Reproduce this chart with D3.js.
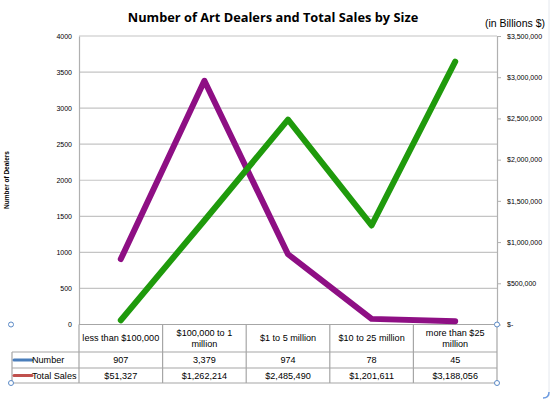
<!DOCTYPE html>
<html>
<head>
<meta charset="utf-8">
<script src="https://cdn.jsdelivr.net/npm/d3@7"></script>
<style>
  body { margin: 0; background: #fff; }
  text { font-family: "Liberation Sans", Arial, sans-serif; fill: #000; }
</style>
</head>
<body>
<div id="chart"></div>
<script>
// chart data
var categories = ["less than $100,000", "$100,000 to 1 million", "$1 to 5 million", "$10 to 25 million", "more than $25 million"];
var categoryLines = [["less than $100,000"], ["$100,000 to 1", "million"], ["$1 to 5 million"], ["$10 to 25 million"], ["more than $25", "million"]];
var numberValues = [907, 3379, 974, 78, 45];
var salesValues = [51327, 1262214, 2485490, 1201611, 3188056];
var leftTicks = [0, 500, 1000, 1500, 2000, 2500, 3000, 3500, 4000];
var rightTicks = [0, 500000, 1000000, 1500000, 2000000, 2500000, 3000000, 3500000];
var seriesNames = ["Number", "Total Sales"];

var W = 550, H = 399;
var plot = {left: 79, right: 497, top: 36, bottom: 324.5};
var rowBottoms = [352, 368, 383];
var legendLeft = 12;

var svg = d3.select("#chart").append("svg")
    .attr("width", W)
    .attr("height", H);

svg.append("rect").attr("width", W).attr("height", H).attr("fill", "#fff");

var x = d3.scaleBand()
    .domain(categories)
    .range([plot.left, plot.right])
    .padding(0);

var yLeft = d3.scaleLinear()
    .domain([0, 4000])
    .range([plot.bottom, plot.top]);

var yRight = d3.scaleLinear()
    .domain([0, 3500000])
    .range([plot.bottom, plot.top]);

var cx = function(d, i){ return x(categories[i]) + x.bandwidth() / 2; };

// gridlines
svg.selectAll(".grid")
    .data(leftTicks.slice(1))
  .enter().append("line")
    .attr("class", "grid")
    .attr("x1", plot.left)
    .attr("x2", plot.right)
    .attr("y1", function(d){ return yLeft(d); })
    .attr("y2", function(d){ return yLeft(d); })
    .attr("stroke", "#c4c4c4")
    .attr("stroke-width", 1.2);

// left axis
var leftAxis = svg.append("g")
    .attr("transform", "translate(" + plot.left + ",0)")
    .call(d3.axisLeft(yLeft).tickValues(leftTicks).tickSize(0).tickPadding(7).tickFormat(d3.format("d")));
leftAxis.select(".domain").attr("stroke", "#b0b0b0").attr("stroke-width", 1.2);
leftAxis.selectAll("text").style("font-size", "7px").attr("fill", "#333");

// right axis
var rightAxis = svg.append("g")
    .attr("transform", "translate(" + plot.right + ",0)")
    .call(d3.axisRight(yRight).tickValues(rightTicks).tickSize(4).tickSizeOuter(0).tickPadding(6)
      .tickFormat(function(d){ return d === 0 ? "$-" : "$" + d3.format(",")(d); }));
rightAxis.select(".domain").attr("stroke", "#b0b0b0").attr("stroke-width", 1.2);
rightAxis.selectAll(".tick line").attr("stroke", "#b0b0b0");
rightAxis.selectAll("text").style("font-size", "7px").attr("fill", "#333");

// left axis title
svg.append("text")
    .attr("transform", "translate(9,180) rotate(-90)")
    .attr("text-anchor", "middle")
    .style("font-size", "6.5px")
    .style("font-weight", "bold")
    .text("Number of Dealers");

// title
svg.append("text")
    .attr("x", 273)
    .attr("y", 22)
    .attr("text-anchor", "middle")
    .style("font-size", "12.8px")
    .style("font-weight", "bold")
    .style("font-family", "'Open Sans', sans-serif")
    .text("Number of Art Dealers and Total Sales by Size");

svg.append("text")
    .attr("x", 545)
    .attr("y", 27)
    .attr("text-anchor", "end")
    .style("font-size", "10.5px")
    .text("(in Billions $)");

// data table
var table = svg.append("g").attr("stroke", "#a6a6a6").attr("stroke-width", 1.2);
table.append("line")
    .attr("x1", plot.left).attr("x2", plot.right)
    .attr("y1", plot.bottom).attr("y2", plot.bottom);
rowBottoms.forEach(function(yy){
    table.append("line")
        .attr("x1", legendLeft).attr("x2", plot.right)
        .attr("y1", yy).attr("y2", yy);
});
var bounds = categories.map(function(c){ return x(c); }).concat([plot.right]);
table.selectAll(".vline")
    .data(bounds)
  .enter().append("line")
    .attr("x1", function(d){ return d; })
    .attr("x2", function(d){ return d; })
    .attr("y1", plot.bottom)
    .attr("y2", rowBottoms[2]);
table.append("line")
    .attr("x1", legendLeft).attr("x2", legendLeft)
    .attr("y1", rowBottoms[0]).attr("y2", rowBottoms[2]);

// category labels
var headerMid = (plot.bottom + rowBottoms[0]) / 2;
categoryLines.forEach(function(lines, i){
    var t = svg.append("text")
        .attr("text-anchor", "middle")
        .style("font-size", "9.1px")
        .attr("fill", "#222");
    lines.forEach(function(ln, j){
        t.append("tspan")
            .attr("x", x(categories[i]) + x.bandwidth() / 2)
            .attr("y", headerMid + 3.2 + (j - (lines.length - 1) / 2) * 11)
            .text(ln);
    });
});

// table values
var rowData = [
    numberValues.map(function(d){ return d3.format(",")(d); }),
    salesValues.map(function(d){ return "$" + d3.format(",")(d); })
];
rowData.forEach(function(row, r){
    var mid = ((r === 0 ? rowBottoms[0] : rowBottoms[1]) + rowBottoms[r + 1]) / 2;
    svg.selectAll(".val" + r)
        .data(row)
      .enter().append("text")
        .attr("x", cx)
        .attr("y", mid + 3.3)
        .attr("text-anchor", "middle")
        .style("font-size", "9.1px")
        .attr("fill", "#222")
        .text(function(d){ return d; });
});

// legend keys in the table
var keyColors = ["#4a7ebb", "#c0504d"];
seriesNames.forEach(function(name, r){
    var mid = ((r === 0 ? rowBottoms[0] : rowBottoms[1]) + rowBottoms[r + 1]) / 2;
    svg.append("line")
        .attr("x1", 14).attr("x2", 32)
        .attr("y1", mid).attr("y2", mid)
        .attr("stroke", keyColors[r])
        .attr("stroke-width", 3)
        .attr("stroke-linecap", "round");
    svg.append("text")
        .attr("x", 32)
        .attr("y", mid + 3.3)
        .style("font-size", "9.1px")
        .attr("fill", "#222")
        .text(name);
});

// series lines
var numberLine = d3.line()
    .x(cx)
    .y(function(d){ return yLeft(d); });
var salesLine = d3.line()
    .x(cx)
    .y(function(d){ return yRight(d); });

svg.append("path")
    .datum(numberValues)
    .attr("d", numberLine)
    .attr("fill", "none")
    .attr("stroke", "#8e0f84")
    .attr("stroke-width", 6)
    .attr("stroke-linecap", "round")
    .attr("stroke-linejoin", "round");

svg.append("path")
    .datum(salesValues)
    .attr("d", salesLine)
    .attr("fill", "none")
    .attr("stroke", "#1f9a0c")
    .attr("stroke-width", 6)
    .attr("stroke-linecap", "round")
    .attr("stroke-linejoin", "round");

// selection handles
var handles = [[11, plot.bottom], [11, rowBottoms[2]], [plot.right, plot.bottom], [plot.right, rowBottoms[2]]];
svg.selectAll(".handle")
    .data(handles)
  .enter().append("circle")
    .attr("cx", function(d){ return d[0]; })
    .attr("cy", function(d){ return d[1]; })
    .attr("r", 2.5)
    .attr("fill", "#fff")
    .attr("stroke", "#5b8ac6")
    .attr("stroke-width", 1);

// frame edge on the right
svg.append("line")
    .attr("x1", 549).attr("x2", 549)
    .attr("y1", 0).attr("y2", 396)
    .attr("stroke", "#e4e8ee")
    .attr("stroke-width", 1);
svg.append("path")
    .attr("d", "M549,392 Q549,398 543,398")
    .attr("fill", "none")
    .attr("stroke", "#6d9be0")
    .attr("stroke-width", 1.5);
</script>
</body>
</html>
